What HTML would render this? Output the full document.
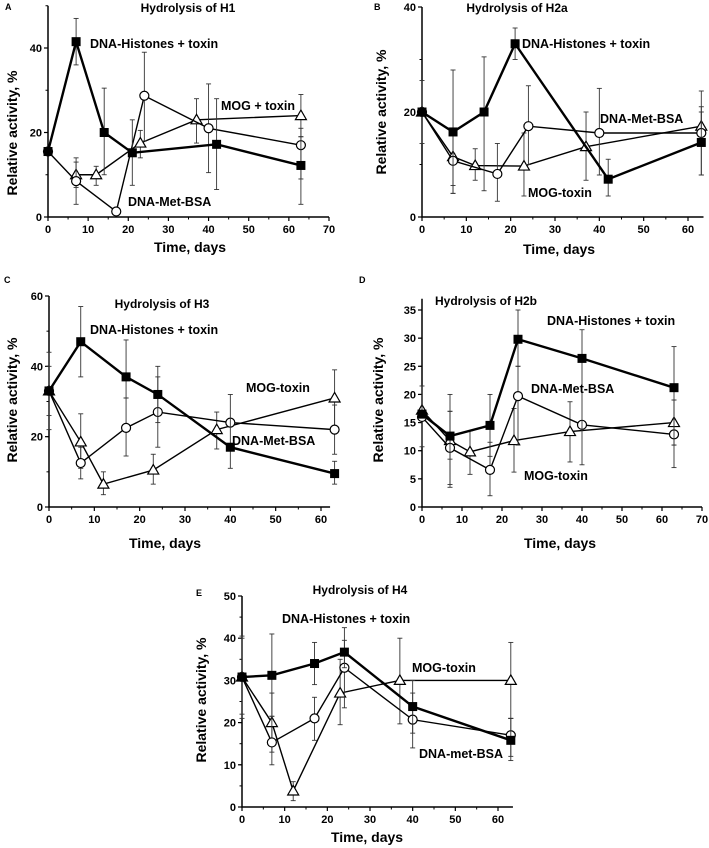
<!DOCTYPE html>
<html><head><meta charset="utf-8"><style>
body{margin:0;background:#fff}
svg{display:block;font-family:"Liberation Sans",Arial,sans-serif;font-weight:bold}
</style></head><body>
<svg id="fig" width="709" height="848" viewBox="0 0 709 848"></svg>
<script>
// ---- data: [day, value, errLow, errHigh] ----
const aDays = {sq:[0,7,14,21,42,63], ci:[0,7,17,24,40,63], tr:[7,12,23,37,63]};
const aSq = [15.5,41.5,20,15.2,17.2,12.2];
const aSqErr = [[15.5,15.5],[36,47],[10,30.5],[7.5,23],[6.5,28],[3,19]];
const aCi = [15.5,8.5,1.3,28.7,21,17];
const aCiErr = [[15.5,15.5],[3,13],[1.3,1.3],[18,39],[10.5,31.5],[9,21]];
const aTr = [10,10,17.5,23,24];
const aTrErr = [[7,14],[7.5,12],[14,20.5],[17.5,28],[19,29]];

const bDays = {sq:[0,7,14,21,42,63], ci:[0,7,17,24,40,63], tr:[0,7,12,23,37,63]};
const bSq = [20,16.2,20,33,7.2,14.2];
const bSqErr = [[14,26],[4.5,28],[5,30.5],[30,36],[4,11],[8,21]];
const bCi = [20,10.7,8.2,17.3,16,16];
const bCiErr = [[20,20],[4.5,16],[3,14],[10,25],[8,24.5],[8,20]];
const bTr = [20,11.5,9.8,9.7,13.4,17.3];
const bTrErr = [[20,20],[6,12],[7,13],[4,16],[7,20],[14,24]];

const cDays = {sq:[0,7,17,24,40,63], ci:[0,7,17,24,40,63], tr:[0,7,12,23,37,63]};
const cSq = [33,47,37,32,17,9.5];
const cSqErr = [[26,40],[37,57],[31,47.5],[24,40],[11,32],[6.5,13]];
const cCi = [33,12.5,22.5,27,24,22];
const cCiErr = [[33,33],[8,17],[14.5,31],[17,37],[24,24],[15,29]];
const cTr = [33,18.5,6.5,10.5,22,31];
const cTrErr = [[22,44],[11,26.5],[3.5,10],[6.5,15],[16.5,27],[22.5,39]];

const dDays = {sq:[0,7,17,24,40,63], ci:[0,7,17,24,40,63], tr:[0,7,12,23,37,63]};
const dSq = [16.5,12.6,14.5,29.8,26.4,21.2];
const dSqErr = [[16.5,16.5],[4,20],[9,20],[25,35],[7.5,31.5],[11,28.5]];
const dCi = [16,10.5,6.6,19.7,14.6,12.9];
const dCiErr = [[10.7,21.5],[3.5,17],[2,11.5],[11,25],[14.6,14.6],[7,19]];
const dTr = [17.2,11.8,9.8,11.8,13.4,15];
const dTrErr = [[17.2,17.2],[8.5,17],[5.8,13.5],[6.2,17.5],[8,18.7],[11,19]];

const eDays = {sq:[0,7,17,24,40,63], ci:[0,7,17,24,40,63], tr:[0,7,12,23,37,63]};
const eSq = [30.8,31.2,34,36.7,23.8,15.8];
const eSqErr = [[21,40.5],[21.5,41],[29,39],[33,42.5],[17.5,30],[11,21]];
const eCi = [30.8,15.3,21,33,20.7,17];
const eCiErr = [[30.8,30.8],[10,27],[15.8,26],[23.5,39.5],[14,27],[12,21]];
const eTr = [30.8,20,3.8,27,30,30];
const eTrErr = [[22,40],[13,21.5],[1.5,6],[19.5,35],[19.7,40],[21,39]];

const xTicks = [0,10,20,30,40,50,60,70];

const NS="http://www.w3.org/2000/svg";
const svg=document.getElementById('fig');
function mk(tag,attrs,parent){const e=document.createElementNS(NS,tag);for(const k in attrs)e.setAttribute(k,attrs[k]);(parent||svg).appendChild(e);return e;}
function txt(s,attrs,parent){const e=mk('text',attrs,parent);e.textContent=s;return e;}

const panels=[
 {id:'a',letter:'A',title:'Hydrolysis of H1',x0:48,x1:329,xmax:70,xend:70,y0:217,y1:48,yv:40,ymax:50,yTicks:[0,20,40],minor:10,
  days:aDays,sq:aSq,sqE:aSqErr,ci:aCi,ciE:aCiErr,tr:aTr,trE:aTrErr,
  letterPos:[5,10],titlePos:[188,12],xlab:[190,252],ylab:[12,133],
  labels:[['DNA-Histones + toxin',90,48],['MOG + toxin',221,110],['DNA-Met-BSA',128,206]]},
 {id:'b',letter:'B',title:'Hydrolysis of H2a',x0:422,x1:688,xmax:60,xend:63.5,y0:217,y1:7,yv:40,ymax:40,yTicks:[0,20,40],minor:10,
  days:bDays,sq:bSq,sqE:bSqErr,ci:bCi,ciE:bCiErr,tr:bTr,trE:bTrErr,
  letterPos:[374,10],titlePos:[517,12],xlab:[559,254],ylab:[381,112],
  labels:[['DNA-Histones + toxin',522,48],['DNA-Met-BSA',600,123],['MOG-toxin',528,197]]},
 {id:'c',letter:'C',title:'Hydrolysis of H3',x0:49,x1:321,xmax:60,xend:62,y0:507,y1:296,yv:60,ymax:60,yTicks:[0,20,40,60],minor:10,
  days:cDays,sq:cSq,sqE:cSqErr,ci:cCi,ciE:cCiErr,tr:cTr,trE:cTrErr,
  letterPos:[4,283],titlePos:[162,308],xlab:[165,548],ylab:[12,400],
  labels:[['DNA-Histones + toxin',90,334],['MOG-toxin',246,392],['DNA-Met-BSA',232,445]]},
 {id:'d',letter:'D',title:'Hydrolysis of H2b',x0:422,x1:702,xmax:70,xend:70,y0:507,y1:310,yv:35,ymax:37,yTicks:[0,5,10,15,20,25,30,35],minor:5,
  days:dDays,sq:dSq,sqE:dSqErr,ci:dCi,ciE:dCiErr,tr:dTr,trE:dTrErr,
  letterPos:[359,283],titlePos:[486,305],xlab:[560,548],ylab:[378,400],
  labels:[['DNA-Histones + toxin',547,325],['DNA-Met-BSA',531,393],['MOG-toxin',524,480]]},
 {id:'e',letter:'E',title:'Hydrolysis of H4',x0:242,x1:498,xmax:60,xend:63.5,y0:807,y1:596,yv:50,ymax:50,yTicks:[0,10,20,30,40,50],minor:5,
  days:eDays,sq:eSq,sqE:eSqErr,ci:eCi,ciE:eCiErr,tr:eTr,trE:eTrErr,
  letterPos:[196,596],titlePos:[360,594],xlab:[367,842],ylab:[201,700],
  labels:[['DNA-Histones + toxin',282,623],['MOG-toxin',412,672],['DNA-met-BSA',419,758]]}
];

panels.forEach(p=>{
  const g=mk('g',{});
  
  
  const X=v=>p.x0+(p.x1-p.x0)*v/p.xmax;
  const Y=v=>p.y0-(p.y0-p.y1)*v/p.yv;
  // axes
  const ax=mk('path',{d:`M${p.x0},${Y(p.ymax)}V${p.y0}H${X(p.xend)}`,stroke:'#000','stroke-width':1.5,fill:'none'},g);
  
  
  xTicks.filter(t=>t<=p.xend).forEach(t=>{
    mk('line',{x1:X(t),x2:X(t),y1:p.y0,y2:p.y0+4,stroke:'#000','stroke-width':1.2},g);
    const l=txt(String(t),{x:X(t),y:p.y0+16,'text-anchor':'middle','font-size':11},g);
    
    
  });
  for(let t=5;t<=p.xend;t+=10) mk('line',{x1:X(t),x2:X(t),y1:p.y0,y2:p.y0+2.5,stroke:'#000'},g);
  for(let v=0;v<=p.ymax+0.01;v+=p.minor) mk('line',{x1:p.x0-2.5,x2:p.x0,y1:Y(v),y2:Y(v),stroke:'#000'},g);
  p.yTicks.forEach(v=>{
    mk('line',{x1:p.x0-4,x2:p.x0,y1:Y(v),y2:Y(v),stroke:'#000','stroke-width':1.2},g);
    const l=txt(String(v),{x:p.x0-6,y:Y(v)+4,'text-anchor':'end','font-size':11},g);
    
    
  });
  const lt=txt(p.letter,{x:p.letterPos[0],y:p.letterPos[1],'font-size':9},g);
  
  
  const tt=txt(p.title,{x:p.titlePos[0],y:p.titlePos[1],'text-anchor':'middle','font-size':12},g);
  
  
  const xl=txt('Time, days',{x:p.xlab[0],y:p.xlab[1],'text-anchor':'middle','font-size':14},g);
  
  
  const yl=txt('Relative activity, %',{x:0,y:0,'text-anchor':'middle','font-size':14,transform:`translate(${p.ylab[0]+5},${p.ylab[1]}) rotate(-90)`},g);
  
  
  const series=[
    {k:'tr',vals:p.tr,errs:p.trE,days:p.days.tr,w:1.4,name:'mog-toxin'},
    {k:'ci',vals:p.ci,errs:p.ciE,days:p.days.ci,w:1.4,name:'dna-met-bsa'},
    {k:'sq',vals:p.sq,errs:p.sqE,days:p.days.sq,w:2.4,name:'dna-histones-toxin'}
  ];
  series.forEach(s=>{
    // error bars
    s.vals.forEach((v,i)=>{
      const e=s.errs[i]; if(e[0]===e[1])return;
      const x=X(s.days[i]);
      mk('line',{x1:x,x2:x,y1:Y(e[0]),y2:Y(e[1]),stroke:'#333','stroke-width':0.9},g);
      mk('line',{x1:x-2.5,x2:x+2.5,y1:Y(e[0]),y2:Y(e[0]),stroke:'#333','stroke-width':0.9},g);
      mk('line',{x1:x-2.5,x2:x+2.5,y1:Y(e[1]),y2:Y(e[1]),stroke:'#333','stroke-width':0.9},g);
    });
    const pts=s.vals.map((v,i)=>X(s.days[i])+','+Y(v)).join(' ');
    const pl=mk('polyline',{points:pts,fill:'none',stroke:'#000','stroke-width':s.w},g);
    
    
    s.vals.forEach((v,i)=>{
      const x=X(s.days[i]),y=Y(v);
      let m;
      if(s.k==='sq') m=mk('rect',{x:x-4.5,y:y-4.5,width:9,height:9,fill:'#000'},g);
      else if(s.k==='ci') m=mk('circle',{cx:x,cy:y,r:4.5,fill:'#fff',stroke:'#000','stroke-width':1.2},g);
      else m=mk('path',{d:`M${x},${y-5.5}L${x+5.5},${y+4}L${x-5.5},${y+4}Z`,fill:'#fff',stroke:'#000','stroke-width':1.2},g);
      
      
    });
  });
  p.labels.forEach(l=>{
    const t=txt(l[0],{x:l[1],y:l[2],'font-size':12.5},g);
    
    
  });
});
</script>
</body></html>
